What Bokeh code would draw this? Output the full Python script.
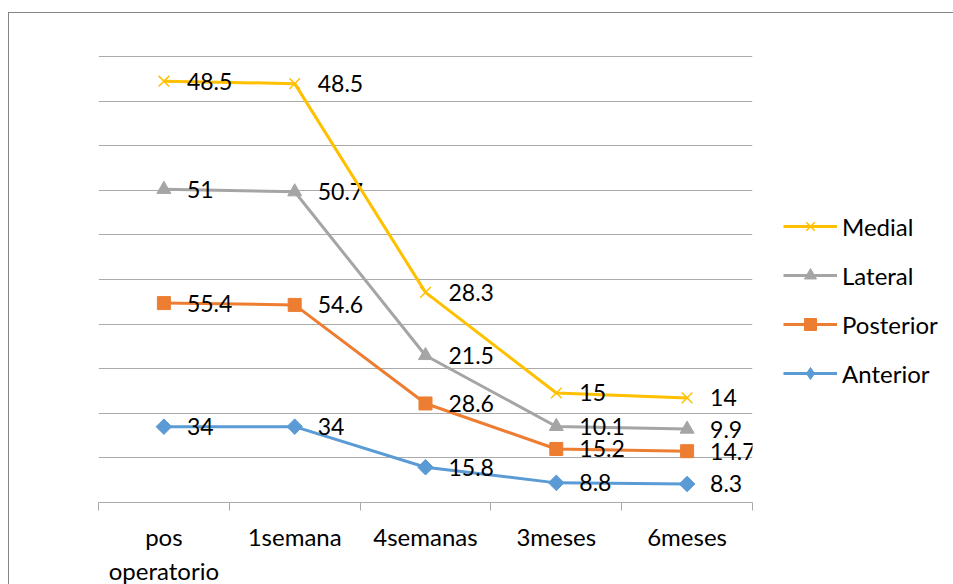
import numpy as np
from bokeh.plotting import figure
from bokeh.models import ColumnDataSource, FixedTicker, Legend, LegendItem, Range1d
from bokeh.embed import file_html
from bokeh.resources import INLINE
from bokeh.core.properties import value

# Data
categories = ["pos\noperatorio", "1semana", "4semanas", "3meses", "6meses"]
anterior = [34, 34, 15.8, 8.8, 8.3]
posterior = [55.4, 54.6, 28.6, 15.2, 14.7]
lateral = [51, 50.7, 21.5, 10.1, 9.9]
medial = [48.5, 48.5, 28.3, 15, 14]
y_ticks = list(range(0, 201, 20))

# name, values, colour, marker, size, angle
series = [
    ("Anterior", anterior, "#5B9BD5", "square", 11, np.pi / 4),
    ("Posterior", posterior, "#ED7D31", "square", 13, 0.0),
    ("Lateral", lateral, "#A5A5A5", "triangle", 14, 0.0),
    ("Medial", medial, "#FFC000", "x", 15, 0.0),
]

FONT = "Lato"

xs = np.arange(len(categories)) + 0.5

# The figure sits inside a chart-area border that starts at (8, 12)
p = figure(width=945, height=572, output_backend="svg", toolbar_location=None,
           x_range=Range1d(0, len(categories)), y_range=Range1d(0, 204),
           min_border_left=89, min_border_right=200, min_border_top=34,
           min_border_bottom=69, frame_width=654, frame_height=455)
p.styles = {"margin-left": "8px", "margin-top": "12px",
            "border-left": "1.5px solid #868686",
            "border-top": "1.5px solid #868686"}
p.outline_line_color = None
p.background_fill_color = "white"
p.border_fill_color = "white"

# Gridlines only, no value axis
p.yaxis.visible = False
p.ygrid.ticker = FixedTicker(ticks=y_ticks)
p.ygrid.grid_line_color = "#ABABAB"
p.ygrid.grid_line_width = 1
p.xgrid.visible = False

# Category axis: labels centred, tick marks between categories
ax = p.xaxis[0]
ax.ticker = FixedTicker(ticks=list(xs), minor_ticks=list(range(len(categories) + 1)))
ax.major_label_overrides = {float(x): c for x, c in zip(xs, categories)}
ax.major_tick_out = 0
ax.major_tick_in = 0
ax.minor_tick_out = 8
ax.minor_tick_in = 0
ax.minor_tick_line_color = "#ABABAB"
ax.axis_line_color = "#ABABAB"
ax.axis_line_width = 1
ax.major_label_text_font = FONT
ax.major_label_text_font_size = "24px"
ax.major_label_text_color = "#000000"
ax.major_label_standoff = 11

legend_items = {}
cum = np.zeros(len(categories))
for name, vals, color, marker, size, angle in series:
    cum = cum + np.array(vals, dtype=float)
    src = ColumnDataSource(dict(x=xs, y=cum.copy(),
                                label=[f"{v:g}" for v in vals]))
    ln = p.line("x", "y", source=src, line_color=color, line_width=3)
    if marker == "x":
        mk = p.scatter("x", "y", source=src, marker="x", size=size,
                       line_color=color, line_width=1.5)
    else:
        mk = p.scatter("x", "y", source=src, marker=marker, size=size,
                       angle=angle, fill_color=color, line_color=color)
    if angle:
        # legend swatch: a diamond, since legend glyphs are drawn unrotated
        mk = p.scatter(x=[np.nan], y=[np.nan], marker="diamond", size=17,
                       fill_color=color, line_color=color)
    p.text("x", "y", text="label", source=src, x_offset=23,
           text_align="left", text_baseline="middle",
           text_font=value(FONT), text_font_size="23px", text_color="#000000")
    legend_items[name] = LegendItem(label=name, renderers=[ln, mk])

legend = Legend(items=[legend_items[n] for n in ["Medial", "Lateral", "Posterior", "Anterior"]],
                location=(31, 114))
legend.glyph_width = 54
legend.glyph_height = 30
legend.label_height = 30
legend.spacing = 19
legend.padding = 0
legend.margin = 0
legend.label_standoff = 5
legend.border_line_color = None
legend.background_fill_alpha = 0
legend.label_text_font = FONT
legend.label_text_font_size = "24px"
legend.label_text_color = "#000000"
p.add_layout(legend, "right")

open("out.html", "w").write(file_html(p, INLINE))
